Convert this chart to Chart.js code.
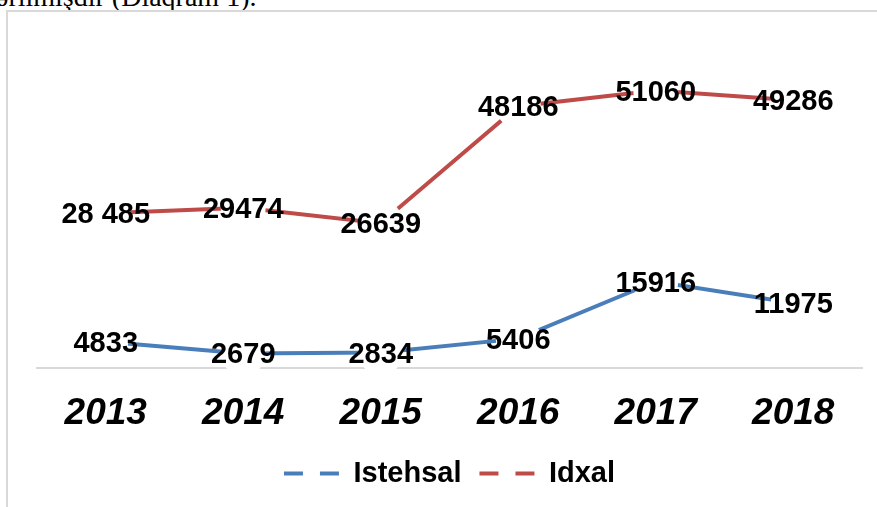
<!DOCTYPE html>
<html>
<head>
<meta charset="utf-8">
<script src="https://cdn.jsdelivr.net/npm/chart.js@4"></script>
<style>
  html, body { margin: 0; padding: 0; background: #fff; overflow: hidden; }
  #wrap { position: relative; width: 877px; height: 507px; overflow: hidden; }
  #topText {
    position: absolute; left: -4px; top: -17px; white-space: nowrap;
    font: 28px/28px "Liberation Serif", "Times New Roman", serif; color: #000;
  }
  #frame {
    position: absolute; left: 6px; top: 10px; width: 900px; height: 520px;
    border-left: 2px solid #d9d9d9; border-top: 2px solid #d9d9d9;
  }
  #canvas { position: absolute; left: 0; top: 0; }
</style>
</head>
<body>
<div id="wrap">
  <div id="topText">ərilmişdir (Diaqram 1).</div>
  <div id="frame"></div>
  <canvas id="canvas" width="877" height="507"></canvas>
</div>
<script>
const years = ['2013', '2014', '2015', '2016', '2017', '2018']
const istehsal = [4833, 2679, 2834, 5406, 15916, 11975]
const idxal = [28485, 29474, 26639, 48186, 51060, 49286]
const istehsalLabels = ['4833', '2679', '2834', '5406', '15916', '11975']
const idxalLabels = ['28 485', '29474', '26639', '48186', '51060', '49286']

const blue = '#4A7EBB'
const red = '#BE4B48'

// value labels centred on each point, drawn after the lines
const valueLabels = {
    id: 'valueLabels',
    afterDatasetsDraw(chart) {
        const ctx = chart.ctx
        ctx.save()
        ctx.font = 'bold 29px "Liberation Sans", Arial, sans-serif'
        ctx.fillStyle = '#000'
        ctx.textAlign = 'center'
        ctx.textBaseline = 'middle'
        chart.data.datasets.forEach((ds, i) => {
            const meta = chart.getDatasetMeta(i)
            meta.data.forEach((pt, j) => {
                ctx.fillText(ds.valueText[j], pt.x, pt.y + 2)
            })
        })
        ctx.restore()
    },
}

const chart = new Chart(document.getElementById('canvas').getContext('2d'), {
    type: 'line',
    data: {
        labels: years,
        datasets: [
            {
                label: 'Istehsal',
                data: istehsal,
                valueText: istehsalLabels,
                borderColor: blue,
                backgroundColor: blue,
                borderWidth: 4,
                tension: 0,
                pointRadius: 22.5,
                pointHoverRadius: 22.5,
                pointBackgroundColor: '#fff',
                pointBorderWidth: 0,
                pointStyle: 'circle',
                clip: false,
            },
            {
                label: 'Idxal',
                data: idxal,
                valueText: idxalLabels,
                borderColor: red,
                backgroundColor: red,
                borderWidth: 4,
                tension: 0,
                pointRadius: 22.5,
                pointHoverRadius: 22.5,
                pointBackgroundColor: '#fff',
                pointBorderWidth: 0,
                pointStyle: 'circle',
                clip: false,
            },
        ],
    },
    options: {
        responsive: false,
        devicePixelRatio: 1,
        animation: false,
        events: [],
        layout: {
            autoPadding: false,
            padding: {top: 42, left: 37, right: 15, bottom: 9},
        },
        plugins: {
            tooltip: {enabled: false},
            legend: {
                display: true,
                position: 'bottom',
                labels: {
                    color: '#000',
                    font: {family: '"Liberation Sans", Arial, sans-serif', size: 29, weight: 'bold'},
                    padding: 18,
                    usePointStyle: true,
                    pointStyleWidth: 55,
                    generateLabels(chart) {
                        return chart.data.datasets.map((ds, i) => ({
                            text: ds.label,
                            datasetIndex: i,
                            pointStyle: 'line',
                            strokeStyle: ds.borderColor,
                            fillStyle: ds.borderColor,
                            lineWidth: 4,
                            lineDash: [19, 17],
                            fontColor: '#000',
                        }))
                    },
                },
            },
        },
        scales: {
            x: {
                offset: true,
                grid: {display: false, drawTicks: false},
                border: {display: true, color: '#d9d9d9', width: 2},
                ticks: {
                    color: '#000',
                    padding: 0,
                    font: {family: '"Liberation Sans", Arial, sans-serif', size: 37, weight: 'bold', style: 'italic', lineHeight: 92 / 37},
                },
                afterFit(scale) {
                    scale.height = 73
                },
            },
            y: {
                display: false,
                min: 0,
                max: 60000,
            },
        },
    },
    plugins: [valueLabels],
})
</script>
</body>
</html>
